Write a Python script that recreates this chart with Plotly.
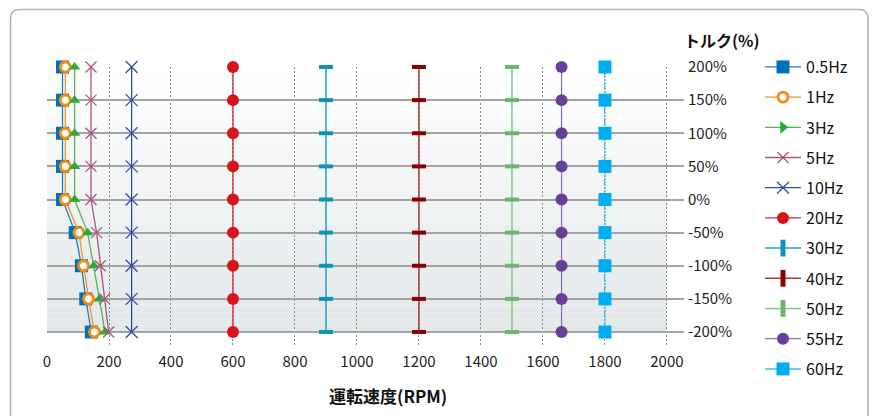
import plotly.graph_objects as go

# ---- data ----
torque = [200, 150, 100, 50, 0, -50, -100, -150, -200]
series_names = ["0.5Hz", "1Hz", "3Hz", "5Hz", "10Hz", "20Hz", "30Hz", "40Hz", "50Hz", "55Hz", "60Hz"]
rpm_05 = [50, 50, 50, 50, 50, 91, 111, 125, 143]
rpm_1 = [59, 59, 59, 59, 59, 103, 118, 134, 153]
rpm_3 = [89, 89, 89, 89, 89, 131, 151, 169, 187]
rpm_5 = [142, 142, 142, 142, 142, 160, 172, 186, 199]
rpm_10 = [273, 273, 273, 273, 273, 273, 273, 273, 273]
rpm_20 = [600, 600, 600, 600, 600, 600, 600, 600, 600]
rpm_30 = [900, 900, 900, 900, 900, 900, 900, 900, 900]
rpm_40 = [1200, 1200, 1200, 1200, 1200, 1200, 1200, 1200, 1200]
rpm_50 = [1500, 1500, 1500, 1500, 1500, 1500, 1500, 1500, 1500]
rpm_55 = [1660, 1660, 1660, 1660, 1660, 1660, 1660, 1660, 1660]
rpm_60 = [1800, 1800, 1800, 1800, 1800, 1800, 1800, 1800, 1800]
x_ticks = [0, 200, 400, 600, 800, 1000, 1200, 1400, 1600, 1800, 2000]
y_ticks = [200, 150, 100, 50, 0, -50, -100, -150, -200]
y_tick_labels = ["200%", "150%", "100%", "50%", "0%", "-50%", "-100%", "-150%", "-200%"]
x_title = "運転速度(RPM)"
y_title = "トルク(%)"

FONT = "Noto Sans CJK JP"
W, H = 874, 416
ML, MR, MT, MB = 47, 190, 67, 71
PW, PH = W - ML - MR, H - MT - MB

styles = {
    "0.5Hz": dict(line=dict(color="#1a7cc4", width=1.3),
                  marker=dict(symbol="square", size=13, color="#0070BC")),
    "1Hz": dict(line=dict(color="#F39426", width=1.3),
                marker=dict(symbol="circle", size=10, color="white",
                            line=dict(color="#F08C12", width=2.8))),
    "3Hz": dict(line=dict(color="#55B555", width=1.3),
                marker=dict(symbol="triangle-up", size=10, color="#2EA83A")),
    "5Hz": dict(line=dict(color="#A8587F", width=1.3),
                marker=dict(symbol="x-thin", size=11, color="#A8507A",
                            line=dict(color="#A8507A", width=1.2))),
    "10Hz": dict(line=dict(color="#2F4F9F", width=1.3),
                 marker=dict(symbol="x-thin", size=12, color="#2F4F9F",
                             line=dict(color="#2F4F9F", width=1.3))),
    "20Hz": dict(line=dict(color="#D8282E", width=1.3),
                 marker=dict(symbol="circle", size=12, color="#D7141E")),
    "30Hz": dict(line=dict(color="#1BA3C6", width=1.5),
                 marker=dict(symbol="line-ew", size=10, color="#0E92B5",
                             line=dict(color="#0E92B5", width=4))),
    "40Hz": dict(line=dict(color="#A23A3A", width=1.5),
                 marker=dict(symbol="line-ew", size=10, color="#8B0000",
                             line=dict(color="#8B0000", width=4))),
    "50Hz": dict(line=dict(color="#85C685", width=1.5),
                 marker=dict(symbol="line-ew", size=10, color="#6DB56D",
                             line=dict(color="#6DB56D", width=4))),
    "55Hz": dict(line=dict(color="#8C72B8", width=1.3),
                 marker=dict(symbol="circle", size=12, color="#663F98")),
    "60Hz": dict(line=dict(color="#3DBBEA", width=1.5, dash="2px,1px"),
                 marker=dict(symbol="square", size=13, color="#00AEEF")),
}
# legend-only appearance overrides (the legend draws some symbols differently)
legend_styles = {
    "3Hz": dict(line=dict(color="#55B555", width=1.3),
                marker=dict(symbol="triangle-right", size=11, color="#2EA83A")),
    "30Hz": dict(line=dict(color="#1BA3C6", width=1.5),
                 marker=dict(symbol="line-ns", size=12, color="#0E92B5",
                             line=dict(color="#0E92B5", width=5))),
    "40Hz": dict(line=dict(color="#A23A3A", width=1.5),
                 marker=dict(symbol="line-ns", size=12, color="#8B0000",
                             line=dict(color="#8B0000", width=5))),
    "50Hz": dict(line=dict(color="#85C685", width=1.5),
                 marker=dict(symbol="line-ns", size=12, color="#6DB56D",
                             line=dict(color="#6DB56D", width=5))),
    "60Hz": dict(line=dict(color="#3DBBEA", width=1.5),
                 marker=dict(symbol="square", size=13, color="#00AEEF")),
}
xs = [rpm_05, rpm_1, rpm_3, rpm_5, rpm_10, rpm_20, rpm_30, rpm_40, rpm_50, rpm_55, rpm_60]

fig = go.Figure()
for name, xv in zip(series_names, xs):
    st = styles[name]
    override = name in legend_styles
    fig.add_trace(go.Scatter(
        x=xv, y=torque, name=name, mode="lines+markers",
        line=st["line"], marker=st["marker"], cliponaxis=False,
        legendgroup=name, showlegend=not override))
    if override:
        ls = legend_styles[name]
        fig.add_trace(go.Scatter(
            x=[None], y=[None], name=name, mode="lines+markers",
            line=ls["line"], marker=ls["marker"], legendgroup=name, showlegend=True))

# plot area gradient (white -> light grey)
c0 = (255, 255, 255)
c1 = (226, 231, 233)
n = 40
for i in range(n):
    t = (i + 0.5) / n
    col = tuple(round(c0[k] + (c1[k] - c0[k]) * t) for k in range(3))
    fig.add_shape(type="rect", xref="x", yref="y", x0=0, x1=2000,
                  y0=200 - 400 * i / n, y1=200 - 400 * (i + 1) / n,
                  fillcolor="rgb(%d,%d,%d)" % col, line=dict(width=0), layer="below")

# outer rounded frame (pixel -> paper)
def px(xp):
    return (xp - ML) / PW

def py(yp):
    return (H - MB - yp) / PH

r = 9
x0p, y0p, x1p, y1p = 10.5, 9.5, 868, 440
path = ("M %f,%f L %f,%f Q %f,%f %f,%f L %f,%f Q %f,%f %f,%f L %f,%f" % (
    px(x0p), py(y1p), px(x0p), py(y0p + r), px(x0p), py(y0p), px(x0p + r), py(y0p),
    px(x1p - r), py(y0p), px(x1p), py(y0p), px(x1p), py(y0p + r), px(x1p), py(y1p)))
fig.add_shape(type="path", xref="paper", yref="paper", path=path,
              line=dict(color="#b4b4b4", width=1.6))

fig.update_layout(
    width=W, height=H,
    margin=dict(l=ML, r=MR, t=MT, b=MB, pad=0, autoexpand=False),
    paper_bgcolor="white", plot_bgcolor="white",
    font=dict(family=FONT, size=15, color="#222222"),
    showlegend=True,
    legend=dict(x=px(760), y=py(50), xanchor="left", yanchor="top",
                font=dict(family=FONT, size=16, color="#111111"),
                tracegroupgap=6.4, itemwidth=36, bgcolor="rgba(0,0,0,0)",
                traceorder="grouped", maxheight=390),
    xaxis=dict(range=[0, 2055], tickvals=x_ticks, showgrid=True,
               gridcolor="#8a8a8a", gridwidth=1, griddash="2px,2px",
               zeroline=False, showline=False, ticks="",
               tickfont=dict(size=15, color="#222222"), ticklabelstandoff=6),
    yaxis=dict(range=[-219.6, 200], side="right", tickvals=y_ticks,
               ticktext=y_tick_labels, showgrid=True, gridcolor="#a3a3a3",
               gridwidth=1.6, zeroline=False, showline=False, ticks="",
               tickfont=dict(size=15, color="#222222"), ticklabelstandoff=3),
    annotations=[
        dict(text="<b>%s</b>" % x_title, xref="paper", yref="paper",
             x=px(387.5), y=py(395), xanchor="center", yanchor="middle",
             showarrow=False, font=dict(family=FONT, size=17, color="#111111")),
        dict(text="<b>%s</b>" % y_title, xref="paper", yref="paper",
             x=px(722), y=py(40), xanchor="center", yanchor="middle",
             showarrow=False, font=dict(family=FONT, size=16, color="#111111")),
    ],
)

fig.write_html("out.html", config={"displayModeBar": False},
               post_script="document.body.style.margin='0';")
